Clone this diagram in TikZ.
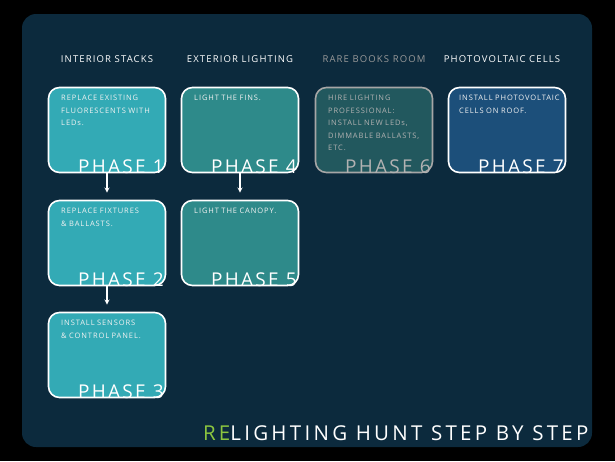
\documentclass[tikz,border=0pt]{standalone}
\usepackage{fontspec}
\setmainfont{Open Sans}
\newfontfamily\spaced[LetterSpace=12]{Open Sans}
\newfontfamily\wide[LetterSpace=16]{Open Sans}
\definecolor{panel}{HTML}{0C2A3D}
\definecolor{stacks}{HTML}{33AAB5}
\definecolor{exterior}{HTML}{2E8A8A}
\definecolor{rare}{HTML}{22585E}
\definecolor{solar}{HTML}{1C4F7A}
\definecolor{regreen}{HTML}{8CC63F}
\tikzset{%
  phase/.style  = {draw=white, line width=1.6pt, rounded corners=11pt,%
                   minimum width=117pt, minimum height=85pt, inner sep=0pt},%
  task/.style   = {text=white!90!gray, font=\spaced\fontsize{7.5}{12.5}\selectfont,%
                   align=left, anchor=north west, text width=110pt},%
  tag/.style    = {text=white, font=\spaced\fontsize{19}{19}\selectfont, anchor=base east},%
  head/.style   = {text=white, font=\spaced\fontsize{9.5}{10}\selectfont},%
  nextphase/.style = {->, >=stealth, white, line width=1.3pt}%
}
\begin{document}
\begin{tikzpicture}[x=1pt,y=-1pt]
	\fill[black] (0,0) rectangle (615,461);
	\useasboundingbox (0,0) rectangle (615,461);
	\fill[panel, rounded corners=14pt] (22,14) rectangle (592,447);
	% column heads
	\node[head] (hstacks) at (107,59) {INTERIOR STACKS};
	\node[head] (hext) at (240,59) {EXTERIOR LIGHTING};
	\node[head, text=gray!80] (hrare) at (374,59) {RARE BOOKS ROOM};
	\node[head] (hsolar) at (502,59) {PHOTOVOLTAIC CELLS};
	% phase boxes
	\node[phase, fill=stacks] (p1) at (107,130) {};
	\node[phase, fill=stacks] (p2) at (107,243) {};
	\node[phase, fill=stacks] (p3) at (107,355) {};
	\node[phase, fill=exterior] (p4) at (240,130) {};
	\node[phase, fill=exterior] (p5) at (240,243) {};
	\node[phase, fill=rare, draw=gray!70] (p6) at (374,130) {};
	\node[phase, fill=solar] (p7) at (507,130) {};
	% texts
	\node[task] at ([shift={(10,5)}]p1.north west) {REPLACE EXISTING\\FLUORESCENTS WITH\\LEDs.};
	\node[task] at ([shift={(10,5)}]p2.north west) {REPLACE FIXTURES\\\& BALLASTS.};
	\node[task] at ([shift={(10,5)}]p3.north west) {INSTALL SENSORS\\\& CONTROL PANEL.};
	\node[task] at ([shift={(10,5)}]p4.north west) {LIGHT THE FINS.};
	\node[task] at ([shift={(10,5)}]p5.north west) {LIGHT THE CANOPY.};
	\node[task, text=gray!60] at ([shift={(10,5)}]p6.north west) {HIRE LIGHTING\\PROFESSIONAL:\\INSTALL NEW LEDs,\\DIMMABLE BALLASTS,\\ETC.};
	\node[task] at ([shift={(8,5)}]p7.north west) {INSTALL PHOTOVOLTAIC\\CELLS ON ROOF.};
	\node[tag] at ([shift={(1,0)}]p1.south east) {PHASE 1};
	\node[tag] at ([shift={(1,0)}]p2.south east) {PHASE 2};
	\node[tag] at ([shift={(1,0)}]p3.south east) {PHASE 3};
	\node[tag] at ([shift={(1,0)}]p4.south east) {PHASE 4};
	\node[tag] at ([shift={(1,0)}]p5.south east) {PHASE 5};
	\node[tag, text=gray!60] at ([shift={(1,0)}]p6.south east) {PHASE 6};
	\node[tag] at ([shift={(1,0)}]p7.south east) {PHASE 7};
	% arrows
	\draw[nextphase] (p1.south) -- ([yshift=7]p2.north);
	\draw[nextphase] (p2.south) -- ([yshift=7]p3.north);
	\draw[nextphase] (p4.south) -- ([yshift=7]p5.north);
	% title
	\node[text=white, anchor=base east, font=\wide\fontsize{20.5}{21}\selectfont] (title) at (592,440)
		{\textcolor{regreen}{RE}LIGHTING HUNT STEP BY STEP};
\end{tikzpicture}
\end{document}
